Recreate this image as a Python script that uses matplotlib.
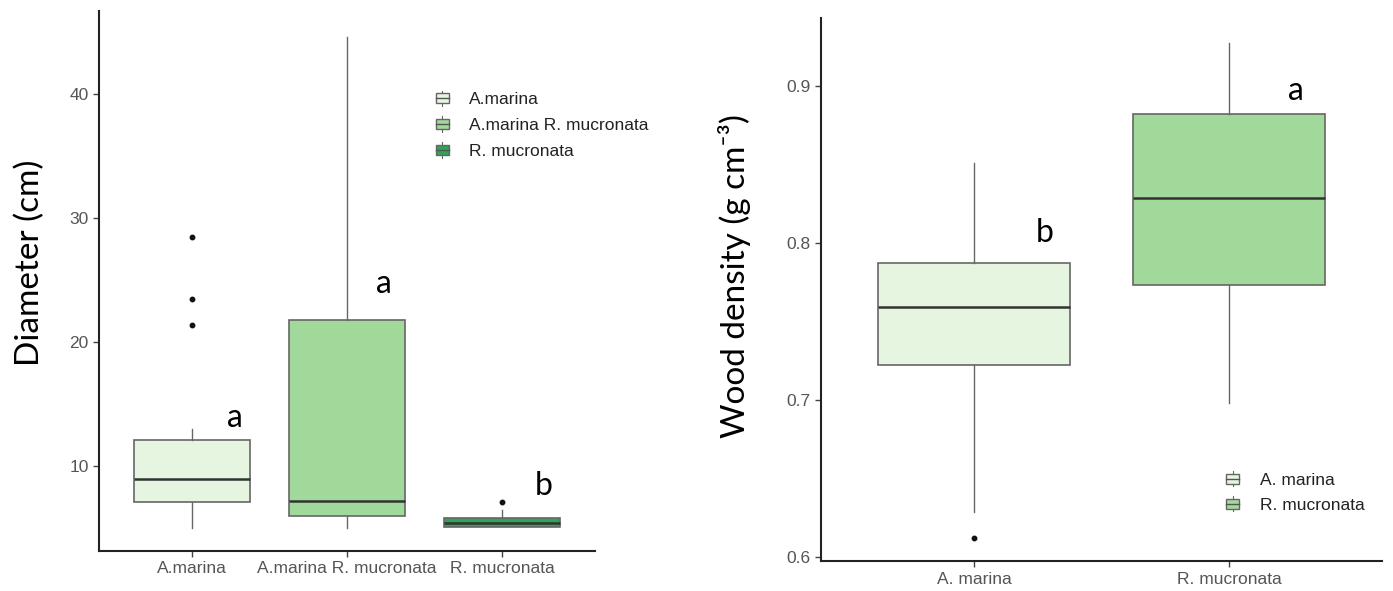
import matplotlib
matplotlib.use('Agg')
import matplotlib.pyplot as plt
from matplotlib.patches import Patch, Rectangle
from matplotlib.lines import Line2D
from matplotlib.legend_handler import HandlerBase

# left panel: diameter by stand type
diam_groups = ['A.marina', 'A.marina R. mucronata', 'R. mucronata']
diam_q1 = [7.15, 6.03, 5.13]
diam_med = [9.0, 7.2, 5.45]
diam_q3 = [12.1, 21.8, 5.81]
diam_lo = [5.05, 5.0, 5.13]
diam_hi = [13.0, 44.6, 6.47]
diam_out = [[28.5, 23.5, 21.4], [], [7.15]]
diam_letters = ['a', 'a', 'b']
diam_letter_x = [1.28, 2.24, 3.27]
diam_letter_y = [13.17, 24.0, 7.69]

# right panel: wood density by species
dens_groups = ['A. marina', 'R. mucronata']
dens_q1 = [0.7224, 0.7735]
dens_med = [0.759, 0.8285]
dens_q3 = [0.787, 0.8826]
dens_lo = [0.6285, 0.6983]
dens_hi = [0.8508, 0.9273]
dens_out = [[0.612], []]
dens_letters = ['b', 'a']
dens_letter_x = [1.277, 2.263]
dens_letter_y = [0.8005, 0.891]

greens = ['#E5F5E0', '#A1D99B', '#31A354']
edge = '#666666'
tick_font = 'Liberation Sans'
label_font = 'Lato'


class BoxHandler(HandlerBase):
    def create_artists(self, legend, orig_handle, xdescent, ydescent,
                       width, height, fontsize, trans):
        x0, y0 = -xdescent, -ydescent
        fc = orig_handle.get_facecolor()
        r = Rectangle((x0, y0 + 0.1 * height), width, 0.8 * height,
                      facecolor=fc, edgecolor=edge, lw=1.0, transform=trans)
        med = Line2D([x0, x0 + width], [y0 + 0.5 * height] * 2,
                     color='#555555', lw=1.0, transform=trans)
        wt = Line2D([x0 + width / 2] * 2, [y0 + 0.9 * height, y0 + 1.1 * height],
                    color=edge, lw=0.8, transform=trans)
        wb = Line2D([x0 + width / 2] * 2, [y0 - 0.1 * height, y0 + 0.1 * height],
                    color=edge, lw=0.8, transform=trans)
        return [r, med, wt, wb]


def draw_boxes(ax, q1, med, q3, lo, hi, out, colors):
    stats = []
    for i in range(len(q1)):
        stats.append(dict(q1=q1[i], med=med[i], q3=q3[i],
                          whislo=lo[i], whishi=hi[i], fliers=out[i]))
    bp = ax.bxp(stats, widths=0.75, patch_artist=True, showcaps=False,
                boxprops=dict(edgecolor=edge, linewidth=1.2),
                medianprops=dict(color='#333333', linewidth=1.8),
                whiskerprops=dict(color=edge, linewidth=1.0),
                flierprops=dict(marker='o', markersize=3.2,
                                markerfacecolor='#111111', markeredgecolor='#111111'))
    for b, c in zip(bp['boxes'], colors):
        b.set_facecolor(c)
    return bp


def style_axes(ax, labels):
    for s in ['top', 'right']:
        ax.spines[s].set_visible(False)
    for s in ['left', 'bottom']:
        ax.spines[s].set_linewidth(1.5)
        ax.spines[s].set_color('#222222')
    ax.tick_params(length=4, width=1.0, color='#444444', labelcolor='#555555',
                   labelsize=12.5)
    ax.set_xticks(range(1, len(labels) + 1))
    ax.set_xticklabels(labels, fontfamily=tick_font)
    for t in ax.get_yticklabels():
        t.set_fontfamily(tick_font)


fig = plt.figure(figsize=(13.93, 5.91), dpi=100)

# Diameter
ax1 = fig.add_axes([0.0711, 0.0682, 0.356, 0.913])
draw_boxes(ax1, diam_q1, diam_med, diam_q3, diam_lo, diam_hi, diam_out, greens)
ax1.set_xlim(0.4, 3.6)
ax1.set_ylim(3.2, 46.7)
ax1.set_yticks([10, 20, 30, 40])
style_axes(ax1, diam_groups)
for t in ax1.get_yticklabels():
    t.set_fontfamily(tick_font)
ax1.set_ylabel('Diameter (cm)', fontsize=24, fontfamily=label_font)
ax1.yaxis.set_label_coords(-0.109, 0.533)
for lx, ly, s in zip(diam_letter_x, diam_letter_y, diam_letters):
    ax1.text(lx, ly, s, fontsize=23, fontfamily=label_font, ha='center', va='baseline')
h1 = [Patch(facecolor=c, edgecolor=edge) for c in greens]
ax1.legend(h1, diam_groups, handler_map={Patch: BoxHandler()},
           loc='upper left', bbox_to_anchor=(0.3015, 0.871), bbox_transform=fig.transFigure,
           frameon=False, handlelength=0.75, handleheight=0.75, handletextpad=1.2,
           labelspacing=0.6, labelcolor='#222222', prop=dict(family=tick_font, size=12.5))

# Wood density
ax2 = fig.add_axes([0.5894, 0.0501, 0.4027, 0.9194])
draw_boxes(ax2, dens_q1, dens_med, dens_q3, dens_lo, dens_hi, dens_out, greens[:2])
ax2.set_xlim(0.4, 2.6)
ax2.set_ylim(0.597, 0.9435)
ax2.set_yticks([0.6, 0.7, 0.8, 0.9])
ax2.set_yticklabels(['0.6', '0.7', '0.8', '0.9'])
style_axes(ax2, dens_groups)
ax2.set_ylabel('Wood density (g cm\u207b\u00b3)', fontsize=24,
               fontfamily=[label_font, 'DejaVu Sans'])
ax2.yaxis.set_label_coords(-0.125, 0.525)
for lx, ly, s in zip(dens_letter_x, dens_letter_y, dens_letters):
    ax2.text(lx, ly, s, fontsize=23, fontfamily=label_font, ha='center', va='baseline')
h2 = [Patch(facecolor=c, edgecolor=edge) for c in greens[:2]]
ax2.legend(h2, dens_groups, handler_map={Patch: BoxHandler()},
           loc='upper left', bbox_to_anchor=(0.869, 0.227), bbox_transform=fig.transFigure,
           frameon=False, handlelength=0.75, handleheight=0.75, handletextpad=1.2,
           labelspacing=0.55, labelcolor='#222222', prop=dict(family=tick_font, size=12.5))

fig.savefig('out.png', dpi=100)
